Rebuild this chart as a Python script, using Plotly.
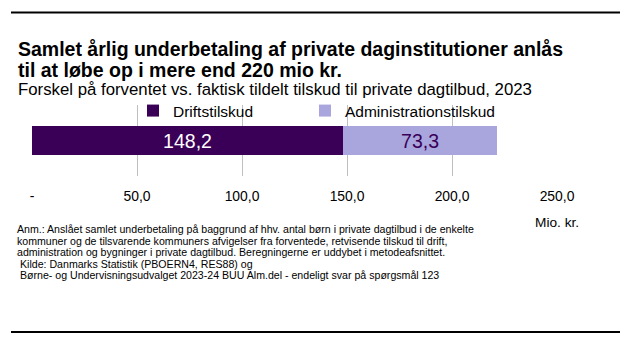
import plotly.graph_objects as go

# ---- data ----
categories = [""]
series_names = ["Driftstilskud", "Administrationstilskud"]
drift_values = [148.2]
admin_values = [73.3]
tick_values = [0, 50, 100, 150, 200, 250]
tick_labels = ["-", "50,0", "100,0", "150,0", "200,0", "250,0"]

title_lines = ["Samlet årlig underbetaling af private daginstitutioner anlås",
               "til at løbe op i mere end 220 mio kr."]
subtitle = "Forskel på forventet vs. faktisk tildelt tilskud til private dagtilbud, 2023"
unit_label = "Mio. kr."
note_lines = [
    "Anm.: Anslået samlet underbetaling på baggrund af hhv. antal børn i private dagtilbud i de enkelte",
    "kommuner og de tilsvarende kommuners afvigelser fra forventede, retvisende tilskud til drift,",
    "administration og bygninger i private dagtilbud. Beregningerne er uddybet i metodeafsnittet.",
    "Kilde: Danmarks Statistik (PBOERN4, RES88) og",
    "Børne- og Undervisningsudvalget 2023-24 BUU Alm.del - endeligt svar på spørgsmål 123",
]

# ---- layout geometry (px) ----
W, H = 634, 348
L, R, T, B = 32, 77, 105, 172
PW, PH = W - L - R, H - T - B
FONT = "Liberation Sans, Arial, sans-serif"
DARK = "#3A0058"
LIGHT = "#A9A5DD"


def px(x):
    return (x - L) / PW


def py(y):
    return 1 - (y - T) / PH


def fmt(v):
    return f"{v:.1f}".replace(".", ",")


fig = go.Figure()
fig.add_trace(go.Bar(
    y=[0], x=drift_values, orientation="h", name=series_names[0],
    marker=dict(color=DARK, line=dict(width=0)), width=0.41,
    text=[fmt(v) for v in drift_values], textposition="inside",
    insidetextanchor="middle", textfont=dict(color="white", size=19.5, family=FONT),
    legend="legend",
))
fig.add_trace(go.Bar(
    y=[0], x=admin_values, orientation="h", name=series_names[1],
    marker=dict(color=LIGHT, line=dict(width=0)), width=0.41,
    text=[fmt(v) for v in admin_values], textposition="inside",
    insidetextanchor="middle", textfont=dict(color=DARK, size=19.5, family=FONT),
    legend="legend2",
))

legend_common = dict(orientation="h", bgcolor="rgba(0,0,0,0)", borderwidth=0,
                     font=dict(size=15.5, family=FONT, color="black"),
                     xanchor="left", yanchor="middle", itemclick=False)

annotations = []
# titles
annotations.append(dict(text="<b>" + title_lines[0] + "</b>", x=px(16), y=py(49.5),
                        font=dict(size=19.5, family=FONT, color="black")))
annotations.append(dict(text="<b>" + title_lines[1] + "</b>", x=px(16), y=py(70),
                        font=dict(size=19.5, family=FONT, color="black")))
annotations.append(dict(text=subtitle, x=px(16), y=py(89.5),
                        font=dict(size=16.8, family=FONT, color="black")))
# notes
note_x = [15, 15, 15, 18, 18]
note_y = [229, 240.5, 252, 263.5, 275]
for t, xx, yy in zip(note_lines, note_x, note_y):
    annotations.append(dict(text=t, x=px(xx), y=py(yy),
                            font=dict(size=10.6, family=FONT, color="black")))
for a in annotations:
    a.update(xref="paper", yref="paper", xanchor="left", yanchor="middle",
             showarrow=False)
annotations.append(dict(text=unit_label, x=px(557), y=py(222), xref="paper", yref="paper",
                        xanchor="center", yanchor="middle", showarrow=False,
                        font=dict(size=13.7, family=FONT, color="black")))

shapes = [
    dict(type="line", xref="paper", yref="paper", x0=px(11), x1=px(620),
         y0=py(12.5), y1=py(12.5), line=dict(color="black", width=2)),
    dict(type="line", xref="paper", yref="paper", x0=px(11), x1=px(620),
         y0=py(332), y1=py(332), line=dict(color="black", width=2)),
]

fig.update_layout(
    width=W, height=H, margin=dict(l=L, r=R, t=T, b=B, pad=0),
    paper_bgcolor="white", plot_bgcolor="white",
    barmode="stack", bargap=0,
    font=dict(family=FONT, color="black"),
    showlegend=True,
    legend=dict(x=px(133), y=py(111), **legend_common),
    legend2=dict(x=px(305), y=py(111), **legend_common),
    xaxis=dict(range=[0, 250], tickvals=tick_values, ticktext=tick_labels,
               showgrid=True, gridcolor="#BFBFBF", gridwidth=1,
               zeroline=False, showline=False, ticks="",
               ticklabelstandoff=10,
               tickfont=dict(size=13.9, family=FONT, color="black"), fixedrange=True),
    yaxis=dict(range=[-0.5, 0.5], showgrid=False, zeroline=False, showline=False,
               showticklabels=False, ticks="", fixedrange=True),
    annotations=annotations,
    shapes=shapes,
)

fig.write_html("out.html")
